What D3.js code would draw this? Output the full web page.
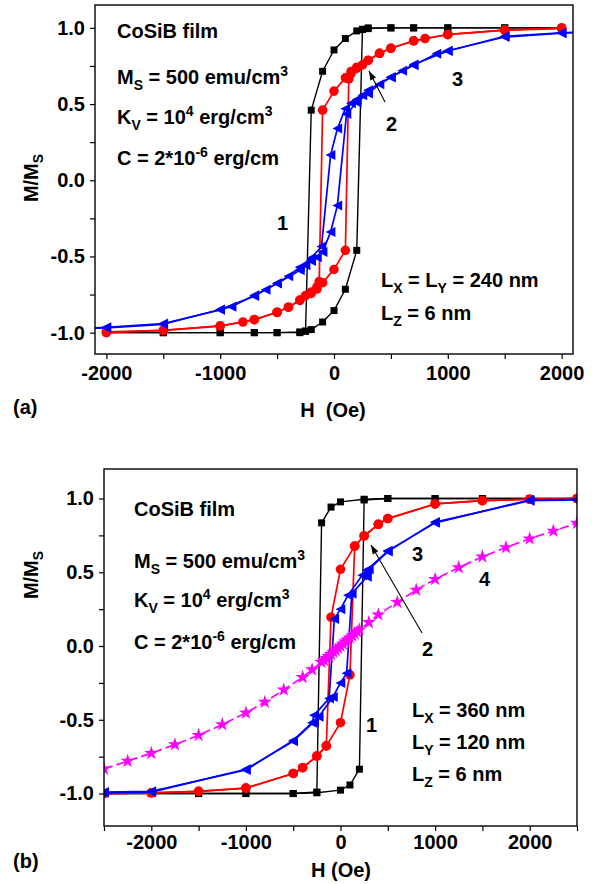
<!DOCTYPE html>
<html><head><meta charset="utf-8">
<script src="https://cdn.jsdelivr.net/npm/d3@7"></script>
<style>
body{margin:0;background:#fff}
svg{display:block}
text{font-family:"Liberation Sans",Arial,Helvetica,sans-serif;font-weight:bold;fill:#000}
</style>
</head><body>
<svg id="c" width="612" height="884"></svg>
<script>
// ---------- Panel (a) data ----------
const aBlackDescH = [2000,1500,1000,700,500,300,250,200,100,0,-100,-200,-250,-300,-500,-700,-1000,-1500,-2000];
const aBlackDescM = [1,1,1,1,1,0.995,0.99,0.98,0.93,0.855,0.715,0.46,-0.99,-1,-1,-1,-1,-1,-1];
const aBlackAscH  = [-2000,-1500,-1000,-700,-500,-300,-250,-200,-100,0,100,200,250,300,500,700,1000,1500,2000];
const aBlackAscM  = [-1,-1,-1,-1,-1,-0.995,-0.99,-0.98,-0.93,-0.855,-0.715,-0.46,0.99,1,1,1,1,1,1];

const aRedDescH = [2000,1500,1000,800,700,500,400,300,200,150,100,0,-100,-130,-150,-200,-250,-300,-400,-500,-700,-1000,-1500,-2000];
const aRedDescM = [1,0.985,0.955,0.93,0.915,0.866,0.833,0.786,0.742,0.714,0.672,0.585,0.46,-0.665,-0.7,-0.734,-0.757,-0.788,-0.833,-0.866,-0.914,-0.957,-0.985,-0.995];
const aRedAscH  = [-2000,-1500,-1000,-800,-700,-500,-400,-300,-200,-150,-100,0,100,130,150,200,250,300,400,500,700,1000,1500,2000];
const aRedAscM  = [-1,-0.985,-0.955,-0.93,-0.915,-0.866,-0.833,-0.786,-0.742,-0.714,-0.672,-0.585,-0.46,0.665,0.7,0.734,0.757,0.788,0.833,0.866,0.914,0.957,0.985,0.995];

const aBlueDescH = [2500,2000,1500,1000,900,700,500,300,250,200,150,100,30,-30,-110,-200,-300,-400,-500,-600,-700,-1000,-1500,-2000,-2500];
const aBlueDescM = [0.985,0.965,0.94,0.85,0.83,0.755,0.678,0.59,0.557,0.53,0.505,0.47,0.34,0.165,-0.435,-0.51,-0.57,-0.63,-0.675,-0.718,-0.76,-0.848,-0.945,-0.968,-0.98];
const aBlueAscH  = [-2500,-2000,-1500,-1000,-900,-700,-500,-300,-250,-200,-150,-100,-30,30,110,200,300,400,500,600,700,1000,1500,2000,2500];
const aBlueAscM  = [-0.985,-0.965,-0.94,-0.85,-0.83,-0.755,-0.678,-0.59,-0.557,-0.53,-0.505,-0.47,-0.34,-0.165,0.435,0.51,0.57,0.63,0.675,0.718,0.76,0.848,0.945,0.968,0.98];

// ---------- Panel (b) data ----------
const bBlackDescH = [2500,2000,1500,1000,500,250,0,-100,-200,-250,-500,-1000,-1500,-2000,-2500];
const bBlackDescM = [1,1,1,1,1,0.995,0.977,0.942,0.835,-0.99,-1,-1,-1,-1,-1];
const bBlackAscH  = [-2500,-2000,-1500,-1000,-500,-250,0,100,200,250,500,1000,1500,2000,2500];
const bBlackAscM  = [-1,-1,-1,-1,-1,-0.995,-0.977,-0.942,-0.835,0.99,1,1,1,1,1];

const bRedDescH = [2500,2000,1500,1000,500,400,250,150,0,-100,-150,-250,-400,-500,-1000,-1500,-2000,-2500];
const bRedDescM = [1,0.995,0.985,0.963,0.864,0.825,0.746,0.677,0.52,0.195,-0.677,-0.746,-0.825,-0.864,-0.963,-0.985,-0.995,-1];
const bRedAscH  = [-2500,-2000,-1500,-1000,-500,-400,-250,-150,0,100,150,250,400,500,1000,1500,2000,2500];
const bRedAscM  = [-1,-0.995,-0.985,-0.963,-0.864,-0.825,-0.746,-0.677,-0.52,-0.195,0.677,0.746,0.825,0.864,0.963,0.985,0.995,1];

const bBlueDescH = [2500,2000,1000,500,280,230,80,0,-65,-120,-280,-300,-500,-1000,-2000,-2500];
const bBlueDescM = [0.995,0.99,0.835,0.645,0.515,0.48,0.345,0.25,0.184,-0.355,-0.47,-0.52,-0.64,-0.84,-0.985,-0.99];
const bBlueAscH  = [-2500,-2000,-1000,-500,-280,-230,-80,0,65,120,280,300,500,1000,2000,2500];
const bBlueAscM  = [-0.995,-0.99,-0.835,-0.645,-0.515,-0.48,-0.345,-0.25,-0.184,0.355,0.47,0.52,0.64,0.84,0.985,0.99];

const bMagH = [-2500,-2250,-2000,-1750,-1500,-1250,-1000,-800,-600,-400,-300,-200,-175,-150,-125,-100,-75,-50,-25,0,25,50,75,100,125,150,175,200,300,400,600,800,1000,1250,1500,1750,2000,2250,2500];
const bMagM = [-0.833,-0.78,-0.727,-0.668,-0.605,-0.532,-0.453,-0.38,-0.297,-0.212,-0.16,-0.11,-0.097,-0.084,-0.07,-0.056,-0.042,-0.028,-0.014,0,0.014,0.028,0.042,0.056,0.07,0.084,0.097,0.11,0.16,0.212,0.297,0.38,0.453,0.532,0.605,0.668,0.727,0.78,0.833];

// ---------- ticks ----------
const aXTicks = [-2000,-1000,0,1000,2000];
const aXMinor = [-1500,-500,500,1500];
const bXTicks = [-2000,-1000,0,1000,2000];
const bXMinor = [-2500,-1500,-500,500,1500,2500];
const yTicks = [-1.0,-0.5,0.0,0.5,1.0];
const yMinor = [-0.75,-0.25,0.25,0.75];

const svg = d3.select("#c");
const RED="#ff0000", BLUE="#0000ff", MAG="#ff00ff";
const FS = 20, FSS = 14;

function zip(H,M){return H.map((h,i)=>[h,M[i]]);}

function markerPath(type){
  if(type==="square") return "M-3.5,-3.5H3.5V3.5H-3.5Z";
  if(type==="circle") return d3.symbol(d3.symbolCircle, 72)();
  if(type==="tri") return "M-5,0L4.8,-5L4.8,5Z";
  if(type==="star") return d3.symbol(d3.symbolStar, 62)();
}

function panel(cfg){
  const g = svg.append("g");
  const x = d3.scaleLinear().domain(cfg.xd).range(cfg.xr);
  const y = d3.scaleLinear().domain(cfg.yd).range(cfg.yr);
  const id = "clip"+cfg.name;
  svg.append("defs").append("clipPath").attr("id",id).append("rect")
    .attr("x",cfg.xr[0]).attr("y",cfg.yr[1]).attr("width",cfg.xr[1]-cfg.xr[0]).attr("height",cfg.yr[0]-cfg.yr[1]);
  const plot = g.append("g").attr("clip-path",`url(#${id})`);
  const line = d3.line().x(d=>x(d[0])).y(d=>y(d[1]));
  cfg.curves.forEach(c=>{
    c.branches.forEach(b=>{
      plot.append("path").attr("d",line(b)).attr("fill","none").attr("stroke",c.color)
        .attr("stroke-width",c.w||1.4).attr("stroke-dasharray",c.dash||null).attr("stroke-linejoin","round");
    });
    c.branches.forEach(b=>{
      plot.selectAll(null).data(b).enter().append("path")
        .attr("d",markerPath(c.marker))
        .attr("transform",d=>`translate(${x(d[0])},${y(d[1])})`)
        .attr("fill",c.color);
    });
  });
  g.append("rect").attr("x",cfg.xr[0]).attr("y",cfg.yr[1]).attr("width",cfg.xr[1]-cfg.xr[0]).attr("height",cfg.yr[0]-cfg.yr[1])
    .attr("fill","none").attr("stroke","#000").attr("stroke-width",1.4);
  const xa = g.append("g").attr("transform",`translate(0,${cfg.yr[0]})`)
    .call(d3.axisBottom(x).tickValues(cfg.xt).tickSize(5).tickPadding(cfg.xpad));
  const xm = g.append("g").attr("transform",`translate(0,${cfg.yr[0]})`)
    .call(d3.axisBottom(x).tickValues(cfg.xm).tickSize(5).tickFormat(""));
  const ya = g.append("g").attr("transform",`translate(${cfg.xr[0]},0)`)
    .call(d3.axisLeft(y).tickValues(yTicks).tickSize(5).tickPadding(5));
  const ym = g.append("g").attr("transform",`translate(${cfg.xr[0]},0)`)
    .call(d3.axisLeft(y).tickValues(yMinor).tickSize(5).tickFormat(""));
  [xa,xm,ya,ym].forEach(a=>{
    a.select(".domain").remove();
    a.selectAll("line").attr("stroke","#000").attr("stroke-width",1.2);
    a.selectAll("text").attr("font-size",FS).attr("font-family","Liberation Sans, Arial, sans-serif").attr("font-weight","bold").attr("fill","#000");
  });
  xa.selectAll("text").text(d=>d3.format("d")(d).replace("\u2212","-"));
  ya.selectAll("text").text(d=>d3.format(".1f")(d).replace("\u2212","-"));
  const yl = g.append("text").attr("transform",`translate(${cfg.ylx},${cfg.yly}) rotate(-90)`)
    .attr("text-anchor","middle").attr("font-size",FS);
  yl.append("tspan").text("M/M");
  yl.append("tspan").text("S").attr("font-size",FSS).attr("dy",5);
  g.append("text").attr("x",cfg.xlx).attr("y",cfg.xly).attr("text-anchor","middle").attr("font-size",FS).attr("xml:space","preserve").text(cfg.xlabel);
  g.append("text").attr("x",13).attr("y",cfg.ply).attr("font-size",FS).text(cfg.plabel);
  cfg.texts.forEach(t=>{
    const el = g.append("text").attr("x",t.x).attr("y",t.y).attr("font-size",FS).attr("xml:space","preserve");
    let cur = 0;
    t.parts.forEach(p=>{
      const shift = p.sub?6:(p.sup?-8:0);
      const sp = el.append("tspan").text(p.t).attr("font-size",(p.sub||p.sup)?FSS:FS);
      sp.attr("dy",shift-cur); cur = shift;
    });
  });
  cfg.arrows.forEach(a=>{
    g.append("line").attr("x1",a[0]).attr("y1",a[1]).attr("x2",a[2]).attr("y2",a[3]).attr("stroke","#000").attr("stroke-width",1.1);
    const ang = Math.atan2(a[3]-a[1],a[2]-a[0])*180/Math.PI;
    g.append("path").attr("d","M0,0L-9,-3.2L-9,3.2Z").attr("fill","#000")
      .attr("transform",`translate(${a[2]},${a[3]}) rotate(${ang})`);
  });
}

const commonTexts = (x0, ys) => [
  {x:x0,y:ys[0],parts:[{t:"CoSiB film"}]},
  {x:x0,y:ys[1],parts:[{t:"M"},{t:"S",sub:1},{t:" = 500 emu/cm"},{t:"3",sup:1}]},
  {x:x0,y:ys[2],parts:[{t:"K"},{t:"V",sub:1},{t:" = 10"},{t:"4",sup:1},{t:" erg/cm"},{t:"3",sup:1}]},
  {x:x0,y:ys[3],parts:[{t:"C = 2*10"},{t:"-6",sup:1},{t:" erg/cm"}]}
];

panel({
  name:"a", xd:[-2100,2100], xr:[95,573], yd:[-1.14,1.15], yr:[354,5], xpad:7,
  xt:aXTicks, xm:aXMinor, xlabel:"H  (Oe)", xlx:333, xly:417, ylx:38, yly:178, plabel:"(a)", ply:414,
  curves:[
    {color:"#000", marker:"square", w:1.4, branches:[zip(aBlackDescH,aBlackDescM), zip(aBlackAscH,aBlackAscM)]},
    {color:RED, marker:"circle", w:1.7, branches:[zip(aRedDescH,aRedDescM), zip(aRedAscH,aRedAscM)]},
    {color:BLUE, marker:"tri", w:1.7, branches:[zip(aBlueDescH,aBlueDescM), zip(aBlueAscH,aBlueAscM)]}
  ],
  texts: commonTexts(117,[38,84,124,165]).concat([
    {x:277,y:230,parts:[{t:"1"}]},
    {x:386,y:131,parts:[{t:"2"}]},
    {x:452,y:86,parts:[{t:"3"}]},
    {x:381,y:287,parts:[{t:"L"},{t:"X",sub:1},{t:" = L"},{t:"Y",sub:1},{t:" = 240 nm"}]},
    {x:381,y:320,parts:[{t:"L"},{t:"Z",sub:1},{t:" = 6 nm"}]}
  ]),
  arrows:[[385,102,369,71]]
});

panel({
  name:"b", xd:[-2500,2500], xr:[104,577], yd:[-1.22,1.2], yr:[826,469], xpad:4,
  xt:bXTicks, xm:bXMinor, xlabel:"H (Oe)", xlx:341, xly:877, ylx:38, yly:575, plabel:"(b)", ply:868,
  curves:[
    {color:"#000", marker:"square", w:1.4, branches:[zip(bBlackDescH,bBlackDescM), zip(bBlackAscH,bBlackAscM)]},
    {color:RED, marker:"circle", w:1.7, branches:[zip(bRedDescH,bRedDescM), zip(bRedAscH,bRedAscM)]},
    {color:BLUE, marker:"tri", w:1.7, branches:[zip(bBlueDescH,bBlueDescM), zip(bBlueAscH,bBlueAscM)]},
    {color:MAG, marker:"star", w:1.7, dash:"9,4", branches:[zip(bMagH,bMagM)]}
  ],
  texts: commonTexts(134,[516,568,607,649]).concat([
    {x:366,y:732,parts:[{t:"1"}]},
    {x:422,y:656,parts:[{t:"2"}]},
    {x:412,y:561,parts:[{t:"3"}]},
    {x:479,y:586,parts:[{t:"4"}]},
    {x:412,y:717,parts:[{t:"L"},{t:"X",sub:1},{t:" = 360 nm"}]},
    {x:412,y:749,parts:[{t:"L"},{t:"Y",sub:1},{t:" = 120 nm"}]},
    {x:412,y:781,parts:[{t:"L"},{t:"Z",sub:1},{t:" = 6 nm"}]}
  ]),
  arrows:[[422,633,371,545]]
});
</script>
</body></html>
